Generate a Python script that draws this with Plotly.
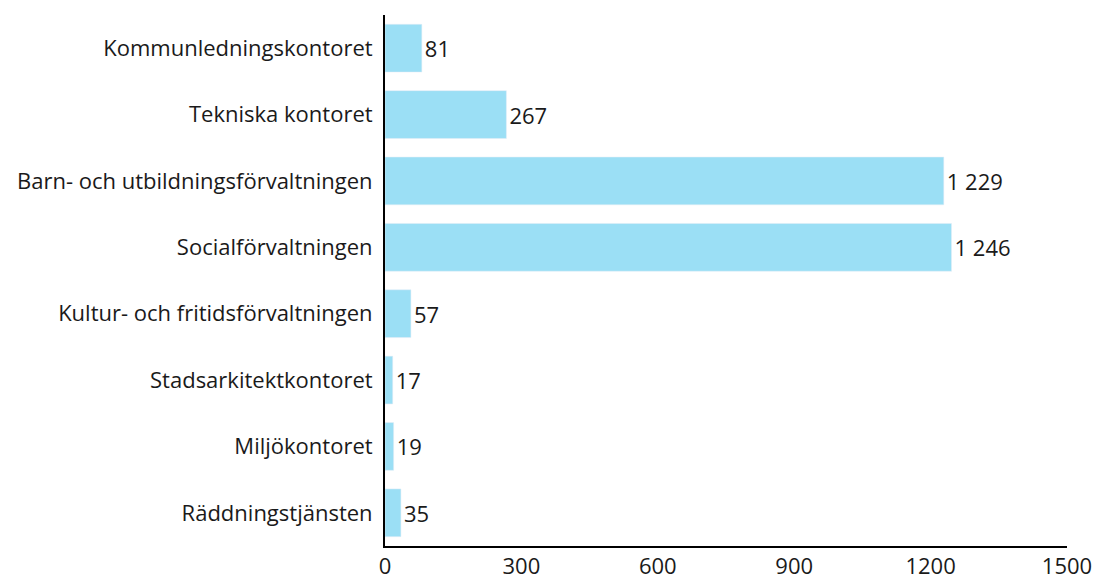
import plotly.graph_objects as go

# Antal anställda per förvaltning
forvaltningar = [
    "Kommunledningskontoret",
    "Tekniska kontoret",
    "Barn- och utbildningsförvaltningen",
    "Socialförvaltningen",
    "Kultur- och fritidsförvaltningen",
    "Stadsarkitektkontoret",
    "Miljökontoret",
    "Räddningstjänsten",
]
antal = [81, 267, 1229, 1246, 57, 17, 19, 35]
x_ticks = [0, 300, 600, 900, 1200, 1500]

BAR_COLOR = "#9BDFF5"
FONT = "Open Sans, Lato, sans-serif"

labels = [f"{v:,}".replace(",", " ") for v in antal]

fig = go.Figure(go.Bar(
    x=antal,
    y=forvaltningar,
    orientation="h",
    marker_color=BAR_COLOR,
    width=0.72,
    text=labels,
    textposition="outside",
    textfont=dict(size=22, color="#1a1a1a"),
    cliponaxis=False,
    hoverinfo="skip",
))

fig.update_layout(
    width=1095,
    height=581,
    plot_bgcolor="white",
    paper_bgcolor="white",
    font=dict(family=FONT, size=22, color="#1a1a1a"),
    margin=dict(l=385, r=28, t=15, b=35, autoexpand=False),
    showlegend=False,
    xaxis=dict(
        range=[0, 1500],
        tickvals=x_ticks,
        ticktext=[str(t) for t in x_ticks],
        showgrid=False,
        zeroline=False,
        showline=True,
        linecolor="black",
        linewidth=2,
        ticks="",
        tickfont=dict(size=22),
        automargin=False,
    ),
    yaxis=dict(
        autorange="reversed",
        showgrid=False,
        showline=True,
        linecolor="black",
        linewidth=2,
        ticks="",
        ticklabelstandoff=6,
        tickfont=dict(size=22),
        automargin=False,
    ),
)

# drop the default page margin so the figure fills the window exactly
fig.write_html(
    "out.html",
    config={"displayModeBar": False},
    post_script="document.body.style.margin='0';document.body.style.overflow='hidden';",
)
